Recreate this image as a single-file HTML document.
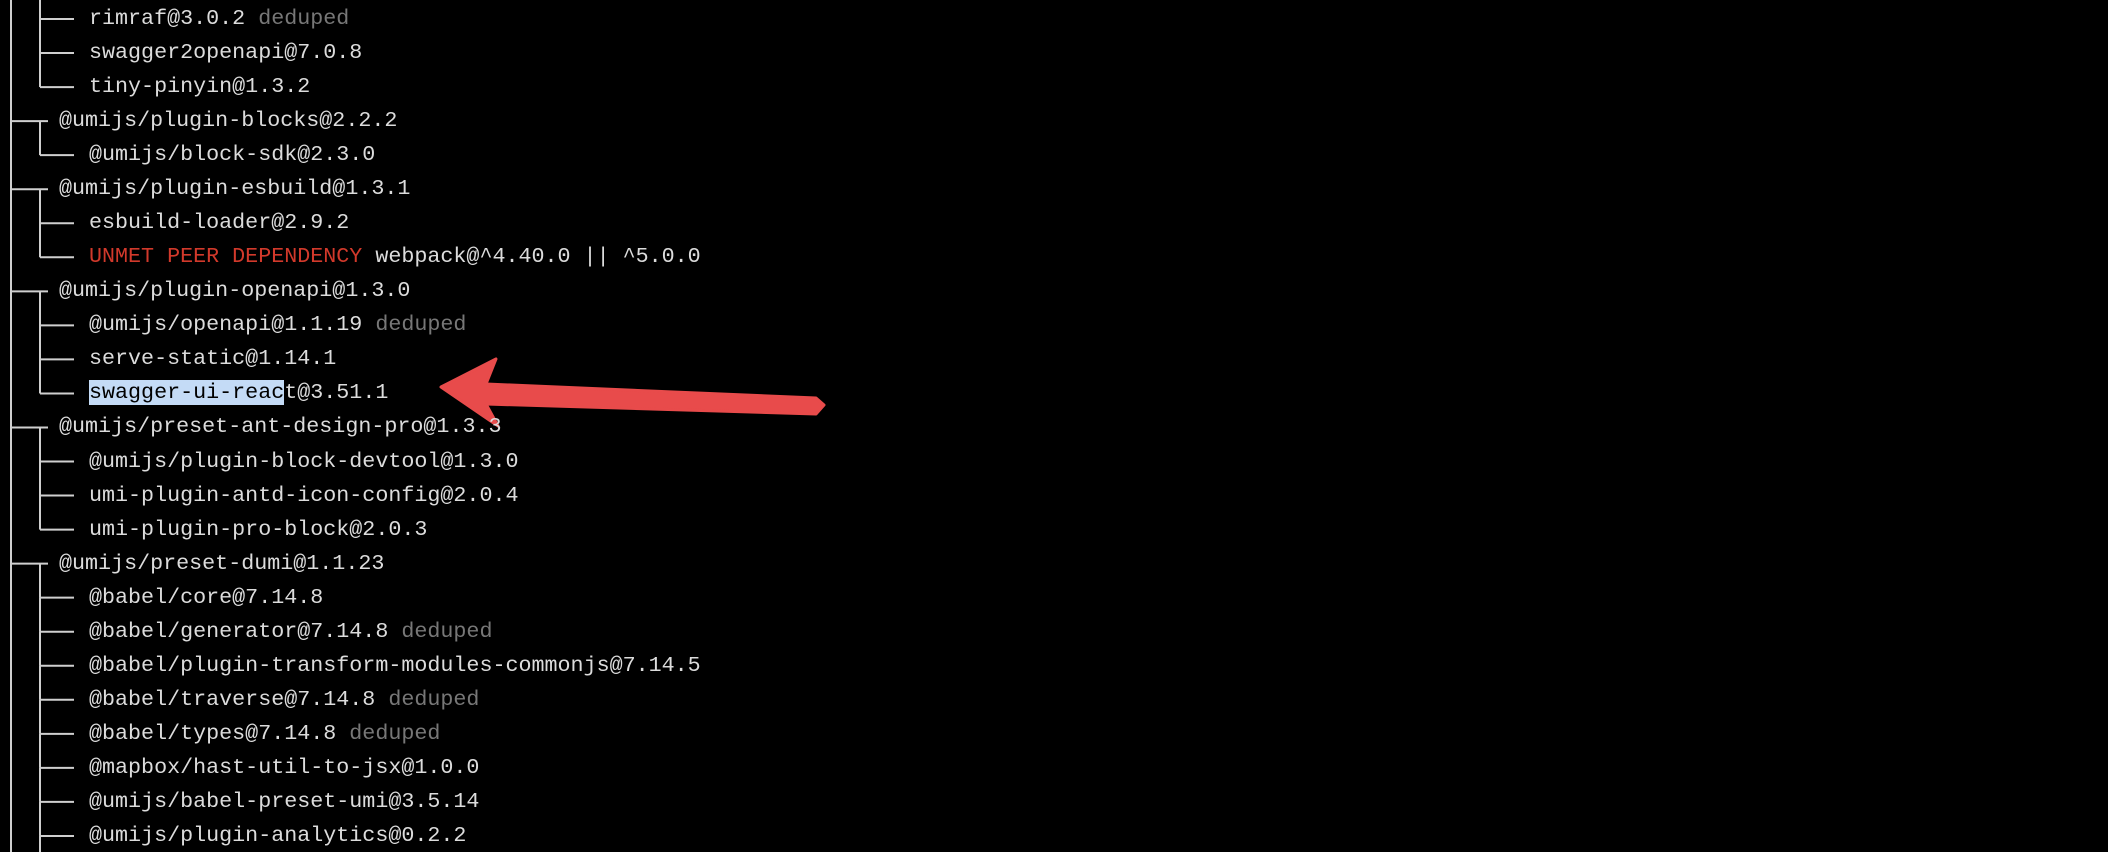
<!DOCTYPE html>
<html><head><meta charset="utf-8"><style>
html,body{margin:0;padding:0;background:#000;}
#term{position:relative;width:2108px;height:852px;overflow:hidden;background:#000;font-family:"Liberation Mono","DejaVu Sans Mono",monospace;font-size:21.7px;color:#dcdcdc;}
.row{position:absolute;height:34px;line-height:34px;white-space:pre;}
.dim{color:#777;}
.red{color:#d2392b;}
.hl{background:#c4dbf6;color:#000;}
svg{position:absolute;left:0;top:0;}
</style></head><body>
<div id="term">
<svg id="lines" width="2108" height="852"></svg>
</div>
<script>
const labels=["rimraf@3.0.2","swagger2openapi@7.0.8","tiny-pinyin@1.3.2","@umijs/plugin-blocks@2.2.2","@umijs/block-sdk@2.3.0","@umijs/plugin-esbuild@1.3.1","esbuild-loader@2.9.2","webpack@^4.40.0 || ^5.0.0","@umijs/plugin-openapi@1.3.0","@umijs/openapi@1.1.19","serve-static@1.14.1","swagger-ui-react@3.51.1","@umijs/preset-ant-design-pro@1.3.3","@umijs/plugin-block-devtool@1.3.0","umi-plugin-antd-icon-config@2.0.4","umi-plugin-pro-block@2.0.3","@umijs/preset-dumi@1.1.23","@babel/core@7.14.8","@babel/generator@7.14.8","@babel/plugin-transform-modules-commonjs@7.14.5","@babel/traverse@7.14.8","@babel/types@7.14.8","@mapbox/hast-util-to-jsx@1.0.0","@umijs/babel-preset-umi@3.5.14","@umijs/plugin-analytics@0.2.2"];
const levels=[2,2,2,1,2,1,2,2,1,2,2,2,1,2,2,2,1,2,2,2,2,2,2,2,2];
const lastFlags=[0,0,1,0,1,0,0,1,0,0,0,1,0,0,0,1,0,0,0,0,0,0,0,0,0];
const dedupedFlags=[1,0,0,0,0,0,0,0,0,1,0,0,0,0,0,0,0,0,1,0,1,1,0,0,0];
const unmetFlags=[0,0,0,0,0,0,0,1,0,0,0,0,0,0,0,0,0,0,0,0,0,0,0,0,0];
const highlightRow=11, highlightChars=15;

const term=document.getElementById('term');
const svg=document.getElementById('lines');
const NS='http://www.w3.org/2000/svg';
const Y0=19, PITCH=34.04, X1=11, X2=40, XT1=59, XT2=89, CH=13.05;
const rowY=i=>Y0+PITCH*i;
function line(x1,y1,x2,y2){
  const l=document.createElementNS(NS,'line');
  l.setAttribute('x1',x1);l.setAttribute('y1',y1);l.setAttribute('x2',x2);l.setAttribute('y2',y2);
  l.setAttribute('stroke','#cfcfcf');l.setAttribute('stroke-width','2');
  
  
  svg.appendChild(l);
}
line(X1,0,X1,852);
let groupStart=-8;
labels.forEach((t,i)=>{
  const y=rowY(i);
  if(levels[i]===1){
    line(X1,y,X2+8,y);
    groupStart=y;
  } else {
    line(X2,lastFlags[i]?groupStart:y-PITCH,X2,y);
    if(!lastFlags[i]) line(X2,y,X2,y+PITCH/2+1);
    line(X2,y,X2+34,y);
  }
  const d=document.createElement('div');
  d.className='row';
  
  
  d.style.top=(y-17)+'px';
  d.style.left=(levels[i]===1?XT1:XT2)+'px';
  let html='';
  if(unmetFlags[i]) html+='<span class="red">UNMET PEER DEPENDENCY</span> ';
  if(i===highlightRow) html+='<span class="hl">'+t.slice(0,highlightChars)+'</span>'+t.slice(highlightChars);
  else html+=t;
  if(dedupedFlags[i]) html+=' <span class="dim">deduped</span>';
  d.innerHTML=html;
  term.appendChild(d);
});
// arrow
const ar=document.createElementNS(NS,'polygon');
ar.setAttribute('points','441,387 496,359 486,384 816,398 824,405 816,414 486,404 498,426');
ar.setAttribute('fill','#e84b4b');
ar.setAttribute('stroke','#e84b4b');ar.setAttribute('stroke-width','3');ar.setAttribute('stroke-linejoin','round');


svg.appendChild(ar);
</script>
</body></html>
